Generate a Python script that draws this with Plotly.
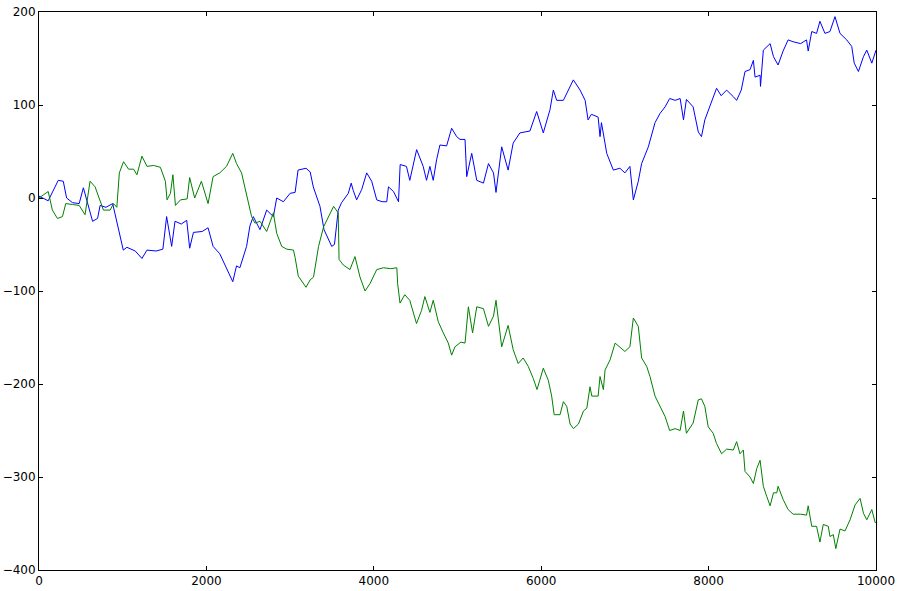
import plotly.graph_objects as go

# values (step index, walk value)
blue_x = [0, 110, 230, 290, 330, 400, 480, 530, 640, 700, 730, 800, 880, 960, 1007,
          1050, 1150, 1230, 1290, 1400, 1480, 1525, 1585, 1625, 1700, 1765, 1800,
          1845, 1950, 2020, 2080, 2160, 2240, 2315, 2360, 2400, 2480, 2520, 2560,
          2640, 2720, 2800, 2840, 2920, 3000, 3060, 3095, 3190, 3240, 3277, 3357,
          3405, 3497, 3530, 3575, 3615, 3695, 3730, 3755, 3795, 3855, 3915, 3975,
          4035, 4100, 4155, 4175, 4235, 4295, 4315, 4390, 4430, 4512, 4590, 4630,
          4670, 4710, 4750, 4790, 4870, 4930, 4990, 5030, 5090, 5110, 5170, 5230,
          5310, 5370, 5430, 5460, 5528, 5605, 5665, 5745, 5865, 5946, 6025, 6105,
          6145, 6185, 6265, 6384, 6465, 6525, 6560, 6600, 6680, 6703, 6720, 6783,
          6862, 6940, 7000, 7060, 7101, 7160, 7200, 7280, 7360, 7420, 7480, 7535,
          7600, 7660, 7700, 7735, 7815, 7877, 7915, 7955, 8015, 8095, 8150, 8215,
          8295, 8335, 8390, 8435, 8495, 8535, 8555, 8615, 8620, 8654, 8735, 8775,
          8830, 8890, 8950, 9010, 9100, 9170, 9190, 9232, 9290, 9330, 9390, 9450,
          9510, 9570, 9650, 9710, 9740, 9790, 9850, 9890, 9950, 10000]
blue_y = [2, -3, 19, 18, 0, -5, -6, 11, -25, -22, -8, -10, -6, -38, -56,
          -53, -57, -65, -56, -57, -55, -20, -52, -25, -28, -24, -54,
          -37, -36, -32, -52, -60, -75, -90, -73, -75, -52, -30, -20,
          -34, -13, -20, 0, -4, 5, 6, 30, 32, 28, 12, -9,
          -34, -52, -50, -13, -5, 5, 16, 8, -2, 9, 27, 18,
          -2, -4, -4, 12, 7, -4, 36, 34, 19, 52, 34, 19,
          34, 19, 41, 57, 56, 75, 66, 63, 63, 23, 48, 19,
          16, 37, 27, 6, 55, 30, 59, 70, 72, 93, 70, 95,
          116, 105, 105, 127, 116, 105, 84, 90, 87, 66, 81, 48,
          30, 32, 27, 34, -2, 18, 37, 55, 81, 91, 98, 107,
          105, 107, 84, 106, 98, 71, 66, 84, 98, 118, 110, 116,
          109, 105, 116, 136, 138, 148, 130, 132, 120, 159, 166, 152,
          143, 158, 170, 168, 166, 170, 158, 179, 177, 190, 177, 179,
          195, 177, 170, 163, 145, 136, 152, 159, 145, 159]

green_x = [0, 110, 160, 220, 280, 320, 400, 480, 550, 610, 670, 730, 770, 850,
           890, 930, 960, 1010, 1070, 1130, 1170, 1230, 1290, 1370, 1450, 1510,
           1530, 1570, 1600, 1630, 1690, 1770, 1800, 1860, 1940, 2020, 2080, 2160,
           2240, 2315, 2360, 2420, 2460, 2500, 2540, 2580, 2640, 2720, 2800, 2840,
           2900, 2960, 3040, 3060, 3098, 3190, 3240, 3280, 3340, 3400, 3460, 3520,
           3575, 3585, 3635, 3715, 3775, 3835, 3895, 3955, 4035, 4115, 4200, 4275,
           4285, 4313, 4370, 4430, 4510, 4570, 4610, 4670, 4710, 4770, 4830, 4890,
           4930, 4970, 5040, 5090, 5130, 5180, 5230, 5310, 5370, 5430, 5460, 5528,
           5605, 5665, 5725, 5785, 5845, 5905, 5950, 6025, 6085, 6125, 6155, 6225,
           6265, 6305, 6345, 6385, 6445, 6505, 6545, 6583, 6605, 6680, 6703, 6743,
           6763, 6823, 6883, 6940, 7000, 7060, 7080, 7101, 7160, 7180, 7200, 7260,
           7300, 7360, 7420, 7480, 7535, 7600, 7660, 7700, 7735, 7815, 7877, 7915,
           7955, 7995, 8055, 8095, 8155, 8215, 8295, 8335, 8375, 8415, 8435, 8495,
           8535, 8575, 8615, 8654, 8695, 8735, 8775, 8815, 8830, 8890, 8950, 9010,
           9100, 9170, 9190, 9232, 9290, 9330, 9370, 9430, 9450, 9490, 9520, 9570,
           9630, 9690, 9750, 9810, 9850, 9890, 9950, 9990, 10000]
green_y = [0, 7, -13, -22, -20, -6, -7, -8, -18, 18, 12, -2, -13, -13,
           -6, -10, 27, 39, 31, 31, 25, 45, 34, 35, 33, 18,
           -2, 5, 25, -8, -2, -1, 22, 0, 18, -6, 23, 27,
           34, 48, 37, 27, 11, -2, -20, -27, -25, -36, -16, -38,
           -52, -55, -56, -64, -84, -96, -88, -85, -52, -31, -20, -9,
           -16, -66, -72, -77, -63, -85, -100, -92, -77, -75, -76, -75,
           -92, -113, -104, -110, -135, -121, -106, -123, -110, -133, -145, -156,
           -169, -160, -155, -156, -117, -145, -117, -119, -138, -127, -110, -160,
           -137, -163, -178, -172, -181, -194, -206, -183, -196, -213, -233, -233,
           -219, -224, -243, -248, -243, -229, -226, -203, -213, -213, -192, -206,
           -185, -174, -156, -160, -165, -160, -142, -129, -138, -152, -172, -181,
           -192, -213, -224, -235, -250, -248, -250, -229, -253, -242, -217, -216,
           -224, -246, -253, -264, -275, -270, -271, -262, -275, -271, -294, -300,
           -307, -291, -282, -310, -321, -331, -317, -317, -310, -324, -335, -340,
           -340, -341, -331, -353, -353, -370, -351, -353, -364, -362, -377, -356,
           -358, -346, -330, -323, -339, -346, -335, -349, -349]

x_ticks = [0, 2000, 4000, 6000, 8000, 10000]
x_labels = ["0", "2000", "4000", "6000", "8000", "10000"]
y_ticks = [-400, -300, -200, -100, 0, 100, 200]
y_labels = ["\u2212400", "\u2212300", "\u2212200", "\u2212100", "0", "100", "200"]

fig = go.Figure()
fig.add_trace(go.Scatter(x=blue_x, y=blue_y, mode="lines",
                         line=dict(color="#0000ff", width=1)))
fig.add_trace(go.Scatter(x=green_x, y=green_y, mode="lines",
                         line=dict(color="#008000", width=1)))

axis_style = dict(
    showline=True, linecolor="black", linewidth=1, mirror="allticks",
    ticks="inside", ticklen=4, tickcolor="black", showgrid=False, zeroline=False,
    automargin=False,
    tickfont=dict(family="DejaVu Sans", size=12, color="black"),
)
fig.update_xaxes(axis_style, range=[0, 10000], tickvals=x_ticks, ticktext=x_labels)
fig.update_yaxes(axis_style, range=[-400, 200], tickvals=y_ticks, ticktext=y_labels)

fig.update_layout(
    width=898, height=591,
    margin=dict(l=39, r=22, t=12, b=21, pad=0),
    paper_bgcolor="white", plot_bgcolor="white",
    showlegend=False,
)

# drop the page's default body margin so the figure sits at the window origin
fig.write_html("out.html", config={"displayModeBar": False},
               post_script="document.body.style.margin = '0';")
